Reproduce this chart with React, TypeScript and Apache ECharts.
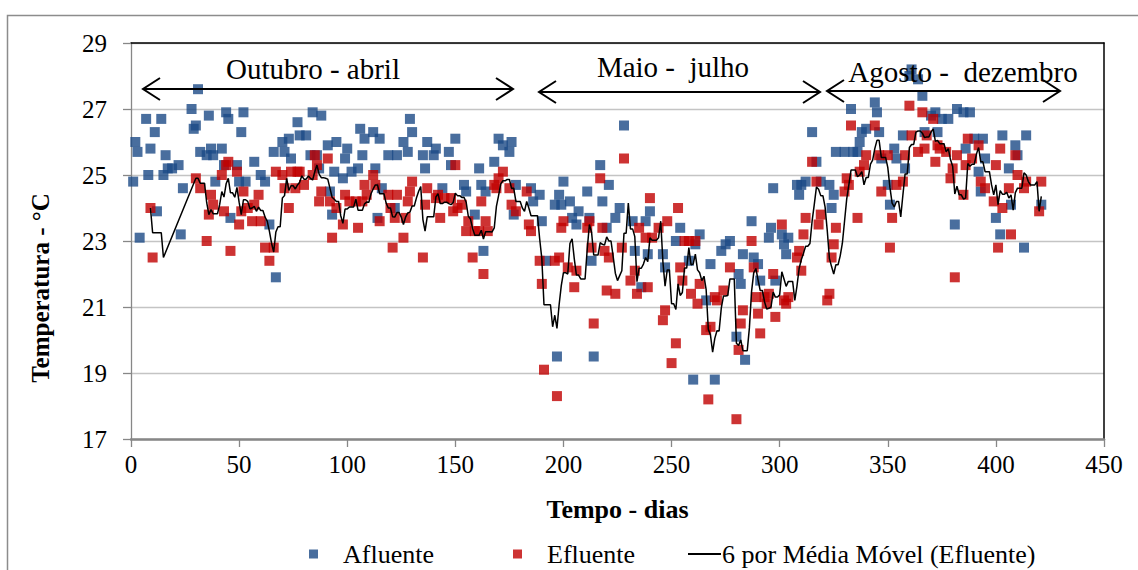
import React, { useEffect, useRef } from "react";
import * as echarts from "echarts";

// [dia, temperatura °C]
const afluente: number[][] = [
  [1, 24.8], [2, 26.0], [3, 25.7], [4, 23.1], [7, 26.7], [8, 25.0], [9, 25.8], [11, 26.3], [12, 23.9], [14, 26.7],
  [15, 25.0], [16, 25.6], [17, 25.2], [19, 25.2], [22, 25.3], [23, 23.2], [24, 24.6], [28, 27.0], [29, 26.4], [30, 26.5],
  [31, 27.6], [32, 25.7], [35, 25.6], [36, 26.8], [37, 25.8], [38, 25.6], [39, 24.8], [42, 25.8], [43, 25.3], [44, 26.9],
  [45, 26.7], [46, 23.7], [49, 25.3], [50, 24.8], [51, 26.3], [52, 26.9], [53, 24.8], [57, 25.4], [60, 25.0], [62, 24.8],
  [64, 23.5], [66, 25.7], [67, 21.9], [70, 26.0], [71, 25.7], [73, 26.1], [74, 25.5], [77, 26.6], [78, 26.2], [81, 26.2],
  [83, 25.6], [84, 26.9], [86, 25.6], [87, 25.2], [88, 26.8], [91, 25.9], [92, 24.5], [93, 23.8], [94, 25.1], [95, 26.0],
  [98, 24.9], [99, 25.5], [100, 25.8], [102, 25.1], [105, 25.2], [106, 26.4], [107, 25.6], [108, 26.1], [112, 26.3], [113, 25.2],
  [114, 23.7], [115, 26.1], [116, 24.6], [119, 25.6], [122, 24.0], [123, 25.6], [126, 26.0], [128, 25.7], [129, 26.7], [130, 26.3],
  [135, 25.6], [136, 25.2], [137, 26.0], [140, 25.6], [141, 25.8], [144, 24.6], [147, 25.7], [148, 25.3], [150, 26.1], [154, 24.7],
  [155, 24.5], [159, 23.8], [161, 25.2], [162, 24.7], [163, 22.7], [164, 24.5], [168, 25.4], [170, 26.1], [172, 25.9], [175, 25.7],
  [176, 26.0], [177, 23.8], [178, 24.7], [185, 24.6], [186, 24.2], [189, 24.4], [190, 23.6], [192, 22.4], [196, 24.1], [197, 19.5],
  [198, 24.4], [199, 24.1], [200, 24.8], [203, 24.2], [204, 23.7], [206, 23.5], [207, 23.9], [211, 24.5], [212, 23.7], [213, 22.4],
  [214, 19.5], [217, 25.3], [218, 24.2], [220, 23.4], [221, 24.7], [224, 23.7], [226, 24.0], [228, 26.5], [232, 23.6], [233, 22.7],
  [236, 21.6], [238, 23.6], [239, 22.6], [240, 23.9], [246, 22.6], [247, 22.2], [252, 23.0], [254, 23.4], [258, 22.4], [260, 18.8],
  [261, 22.9], [263, 23.2], [266, 21.2], [268, 22.3], [270, 18.8], [273, 22.7], [275, 22.9], [277, 23.0], [280, 20.1], [281, 22.0],
  [282, 21.7], [283, 22.6], [284, 19.4], [287, 23.6], [288, 22.5], [290, 22.3], [291, 21.8], [295, 23.1], [296, 23.4], [297, 24.6],
  [298, 21.8], [301, 23.2], [302, 22.9], [303, 22.6], [304, 23.1], [308, 24.7], [309, 24.4], [310, 24.7], [312, 24.8], [315, 26.3],
  [317, 25.4], [319, 24.8], [323, 24.7], [324, 24.0], [325, 24.4], [326, 25.7], [330, 25.7], [333, 27.0], [334, 25.7], [336, 25.7],
  [337, 26.0], [338, 26.3], [340, 26.4], [344, 27.2], [345, 26.9], [346, 26.3], [347, 25.5], [350, 24.7], [351, 24.1], [353, 25.8],
  [354, 25.5], [357, 26.2], [358, 25.2], [360, 28.0], [361, 28.2], [364, 27.9], [366, 27.4], [367, 26.3], [370, 26.8], [372, 26.9],
  [373, 26.3], [375, 26.7], [378, 26.7], [381, 23.5], [382, 27.0], [385, 26.9], [386, 25.8], [388, 26.9], [390, 26.1], [392, 25.1],
  [393, 24.5], [394, 26.1], [395, 25.5], [400, 23.7], [402, 23.2], [403, 26.2], [406, 25.2], [407, 24.1], [409, 25.9], [410, 25.6],
  [413, 22.8], [414, 26.2], [421, 24.1],
];

const efluente: number[][] = [
  [9, 24.0], [10, 22.5], [30, 24.9], [32, 24.6], [35, 23.0], [36, 23.8], [37, 24.4], [38, 24.1], [42, 25.0], [43, 23.9],
  [44, 25.3], [45, 25.4], [46, 22.7], [49, 25.1], [50, 23.5], [51, 23.9], [52, 24.5], [54, 24.0], [56, 23.6], [57, 24.1],
  [59, 24.4], [60, 23.6], [62, 22.8], [64, 22.4], [66, 22.8], [67, 25.1], [70, 25.0], [71, 24.6], [73, 24.0], [74, 25.1],
  [76, 24.6], [77, 25.1], [78, 25.1], [80, 24.7], [84, 25.0], [85, 25.6], [86, 25.3], [87, 24.2], [88, 24.5], [91, 25.5],
  [92, 24.2], [93, 23.1], [95, 24.0], [98, 23.5], [99, 24.4], [101, 24.2], [104, 24.2], [105, 23.4], [107, 24.2], [108, 24.7],
  [109, 24.4], [112, 25.0], [113, 24.7], [115, 23.6], [119, 24.4], [120, 24.0], [121, 22.8], [122, 23.7], [123, 24.4], [126, 23.1],
  [127, 23.7], [128, 24.2], [129, 24.5], [130, 24.8], [135, 22.5], [136, 24.1], [137, 24.6], [141, 24.3], [142, 24.4], [143, 23.7],
  [145, 24.3], [148, 24.3], [149, 23.9], [150, 25.3], [151, 24.0], [153, 24.1], [155, 23.3], [156, 23.6], [158, 22.5], [159, 23.3],
  [161, 23.3], [162, 24.2], [163, 22.0], [164, 23.6], [165, 23.3], [168, 24.7], [169, 24.6], [170, 24.9], [172, 25.1], [175, 24.6],
  [176, 24.1], [178, 23.9], [183, 24.5], [184, 23.5], [185, 23.3], [189, 22.4], [190, 21.7], [191, 19.1], [196, 22.4], [197, 18.3],
  [198, 22.5], [199, 23.4], [200, 23.6], [202, 22.2], [205, 21.6], [206, 22.1], [211, 23.4], [212, 23.6], [213, 22.8], [214, 20.5],
  [217, 24.9], [218, 23.4], [219, 22.7], [220, 21.5], [221, 22.5], [224, 21.4], [227, 22.8], [228, 25.5], [231, 21.8], [233, 22.1],
  [234, 21.4], [235, 23.4], [238, 23.1], [239, 21.6], [240, 24.3], [241, 23.1], [244, 23.4], [246, 20.6], [247, 20.9], [248, 23.6],
  [250, 19.3], [252, 19.9], [253, 24.0], [254, 22.2], [255, 21.8], [256, 23.0], [258, 23.0], [259, 21.4], [261, 23.0], [262, 21.1],
  [263, 21.7], [266, 20.3], [267, 18.2], [268, 20.4], [270, 21.3], [271, 21.2], [274, 21.5], [277, 22.2], [280, 17.6], [281, 19.7],
  [282, 20.5], [283, 20.9], [287, 23.0], [288, 22.2], [289, 21.3], [290, 20.8], [291, 20.2], [293, 21.3], [294, 21.1], [295, 21.4],
  [297, 22.0], [298, 20.7], [301, 23.5], [302, 21.2], [303, 21.1], [304, 21.3], [308, 22.5], [309, 22.7], [310, 22.1], [311, 23.2],
  [312, 23.7], [315, 25.4], [317, 24.8], [318, 23.5], [319, 23.8], [322, 21.2], [323, 21.4], [324, 22.5], [325, 22.9], [326, 23.4],
  [330, 24.5], [331, 24.9], [332, 24.7], [333, 26.5], [336, 23.7], [337, 25.1], [339, 25.3], [340, 25.6], [344, 26.5], [346, 25.6],
  [347, 24.5], [350, 25.6], [351, 22.8], [352, 23.7], [354, 24.7], [357, 24.8], [358, 25.6], [360, 27.1], [361, 26.2], [364, 25.7],
  [366, 26.9], [367, 25.8], [368, 26.2], [371, 26.7], [372, 25.4], [373, 25.9], [374, 25.8], [377, 25.7], [379, 24.9], [380, 25.2],
  [381, 21.9], [382, 25.6], [385, 24.4], [386, 25.3], [387, 26.1], [389, 25.5], [392, 25.9], [393, 24.8], [395, 24.6], [399, 24.2],
  [400, 25.3], [401, 22.8], [402, 25.8], [403, 24.0], [406, 24.6], [407, 23.2], [409, 25.6], [410, 25.0], [413, 24.6], [414, 24.8],
  [420, 23.9], [421, 24.8],
];

const seriesNames = ["Afluente", "Efluente", "6 por Média Móvel (Efluente)"];
const periodLabels = ["Outubro - abril", "Maio -  julho", "Agosto -  dezembro"];
const MA_PERIOD = 6;
const xMin = 0, xMax = 450, xStep = 50;
const yMin = 17, yMax = 29, yStep = 2;

// Excel-style moving average: window of MA_PERIOD days, blanks ignored
function movingAverage(data: number[][], period: number): number[][] {
  const out: number[][] = [];
  const start = data[0][0];
  const end = data[data.length - 1][0];
  for (let d = start; d <= end; d++) {
    let s = 0, n = 0;
    for (const [day, v] of data) {
      if (day > d - period && day <= d) { s += v; n++; }
    }
    if (n > 0) out.push([d, Math.round((s / n) * 1000) / 1000]);
  }
  return out;
}

const FONT = "'Liberation Serif', 'Times New Roman', serif";

function arrow(x1: number, x2: number, y: number) {
  const h = 17, w = 11;
  return [
    { type: "line", z: 50, shape: { x1, y1: y, x2, y2: y }, style: { stroke: "#000", lineWidth: 2 } },
    { type: "polyline", z: 50, shape: { points: [[x1 + h, y - w], [x1, y], [x1 + h, y + w]] }, style: { stroke: "#000", lineWidth: 2, fill: null } },
    { type: "polyline", z: 50, shape: { points: [[x2 - h, y - w], [x2, y], [x2 - h, y + w]] }, style: { stroke: "#000", lineWidth: 2, fill: null } },
  ];
}

export default function App() {
  const ref = useRef<HTMLDivElement>(null);
  useEffect(() => {
    document.body.style.margin = "0";
    if (!ref.current) return;
    const chart = echarts.init(ref.current, null, { renderer: "svg" });
    const ma = movingAverage(efluente, MA_PERIOD);
    const axisGray = "#878787";
    chart.setOption({
      animation: false,
      backgroundColor: "#fff",
      textStyle: { fontFamily: FONT },
      grid: { left: 131, top: 43, width: 973, height: 396, containLabel: false },
      xAxis: [
        {
          type: "value", min: xMin, max: xMax, interval: xStep,
          axisLine: { show: true, onZero: false, lineStyle: { color: axisGray, width: 2.5 } },
          axisTick: { show: true, length: 8, lineStyle: { color: axisGray, width: 1.3 } },
          axisLabel: { color: "#000", fontSize: 25, fontFamily: FONT, margin: 13 },
          splitLine: { show: false },
          name: "Tempo - dias", nameLocation: "middle", nameGap: 57,
          nameTextStyle: { color: "#000", fontSize: 26, fontWeight: "bold", fontFamily: FONT },
        },
        {
          type: "value", position: "top", min: xMin, max: xMax, interval: xStep,
          axisLine: { show: true, onZero: false, lineStyle: { color: "#000", width: 1.5 } },
          axisTick: { show: false }, axisLabel: { show: false }, splitLine: { show: false },
        },
      ],
      yAxis: [
        {
          type: "value", min: yMin, max: yMax, interval: yStep,
          axisLine: { show: true, onZero: false, lineStyle: { color: axisGray, width: 1.3 } },
          axisTick: { show: true, length: 8, lineStyle: { color: axisGray, width: 1.3 } },
          axisLabel: { color: "#000", fontSize: 25, fontFamily: FONT, margin: 24 },
          splitLine: { show: true, lineStyle: { color: "#c4c4c4", width: 1.3 } },
        },
        {
          type: "value", position: "right", min: yMin, max: yMax, interval: yStep,
          axisLine: { show: true, onZero: false, lineStyle: { color: "#000", width: 1.5 } },
          axisTick: { show: false }, axisLabel: { show: false }, splitLine: { show: false },
        },
      ],
      legend: [
        {
          data: [seriesNames[0]], left: 304, top: 536, icon: "rect", itemWidth: 9, itemHeight: 9,
          textStyle: { fontSize: 26, color: "#000", fontFamily: FONT, padding: [0, 0, 0, 20] },
        },
        {
          data: [seriesNames[1]], left: 508, top: 536, icon: "rect", itemWidth: 9, itemHeight: 9,
          textStyle: { fontSize: 26, color: "#000", fontFamily: FONT, padding: [0, 0, 0, 20] },
        },
        {
          data: [{ name: seriesNames[2], icon: "rect" }], left: 683, top: 536, itemWidth: 33, itemHeight: 2,
          textStyle: { fontSize: 26, color: "#000", fontFamily: FONT, padding: [0, 0, 0, -4] },
        },
      ],
      series: [
        {
          name: seriesNames[0], type: "scatter", data: afluente, symbol: "rect", symbolSize: 10,
          itemStyle: { color: "#1B4A86" }, z: 2,
        },
        {
          name: seriesNames[1], type: "scatter", data: efluente, symbol: "rect", symbolSize: 10,
          itemStyle: { color: "#C00000" }, z: 3,
        },
        {
          name: seriesNames[2], type: "line", data: ma, showSymbol: false, symbol: "none",
          lineStyle: { color: "#000", width: 1.5 }, itemStyle: { color: "#000" }, z: 4,
        },
      ],
      graphic: [
        { type: "rect", z: 0, silent: true, shape: { x: 7.5, y: 15.5, width: 1200, height: 600 }, style: { fill: null, stroke: "#8c8c8c", lineWidth: 1.5 } },
        ...arrow(143, 513, 89),
        ...arrow(539, 820, 92),
        ...arrow(827, 1060, 91),
        { type: "text", z: 50, x: 313, y: 69, style: { text: periodLabels[0], font: `29px ${FONT}`, fill: "#000", align: "center", verticalAlign: "middle" } },
        { type: "text", z: 50, x: 673, y: 67, style: { text: periodLabels[1], font: `29px ${FONT}`, fill: "#000", align: "center", verticalAlign: "middle" } },
        { type: "text", z: 50, x: 963, y: 72, style: { text: periodLabels[2], font: `29px ${FONT}`, fill: "#000", align: "center", verticalAlign: "middle" } },
        { type: "text", z: 50, x: 40, y: 288, rotation: Math.PI / 2, style: { text: "Temperatura - °C", font: `bold 25px ${FONT}`, fill: "#000", align: "center", verticalAlign: "middle" } },
      ],
    });
    return () => chart.dispose();
  }, []);
  return <div ref={ref} style={{ position: "absolute", left: 0, top: 0, width: 1138, height: 570 }} />;
}
